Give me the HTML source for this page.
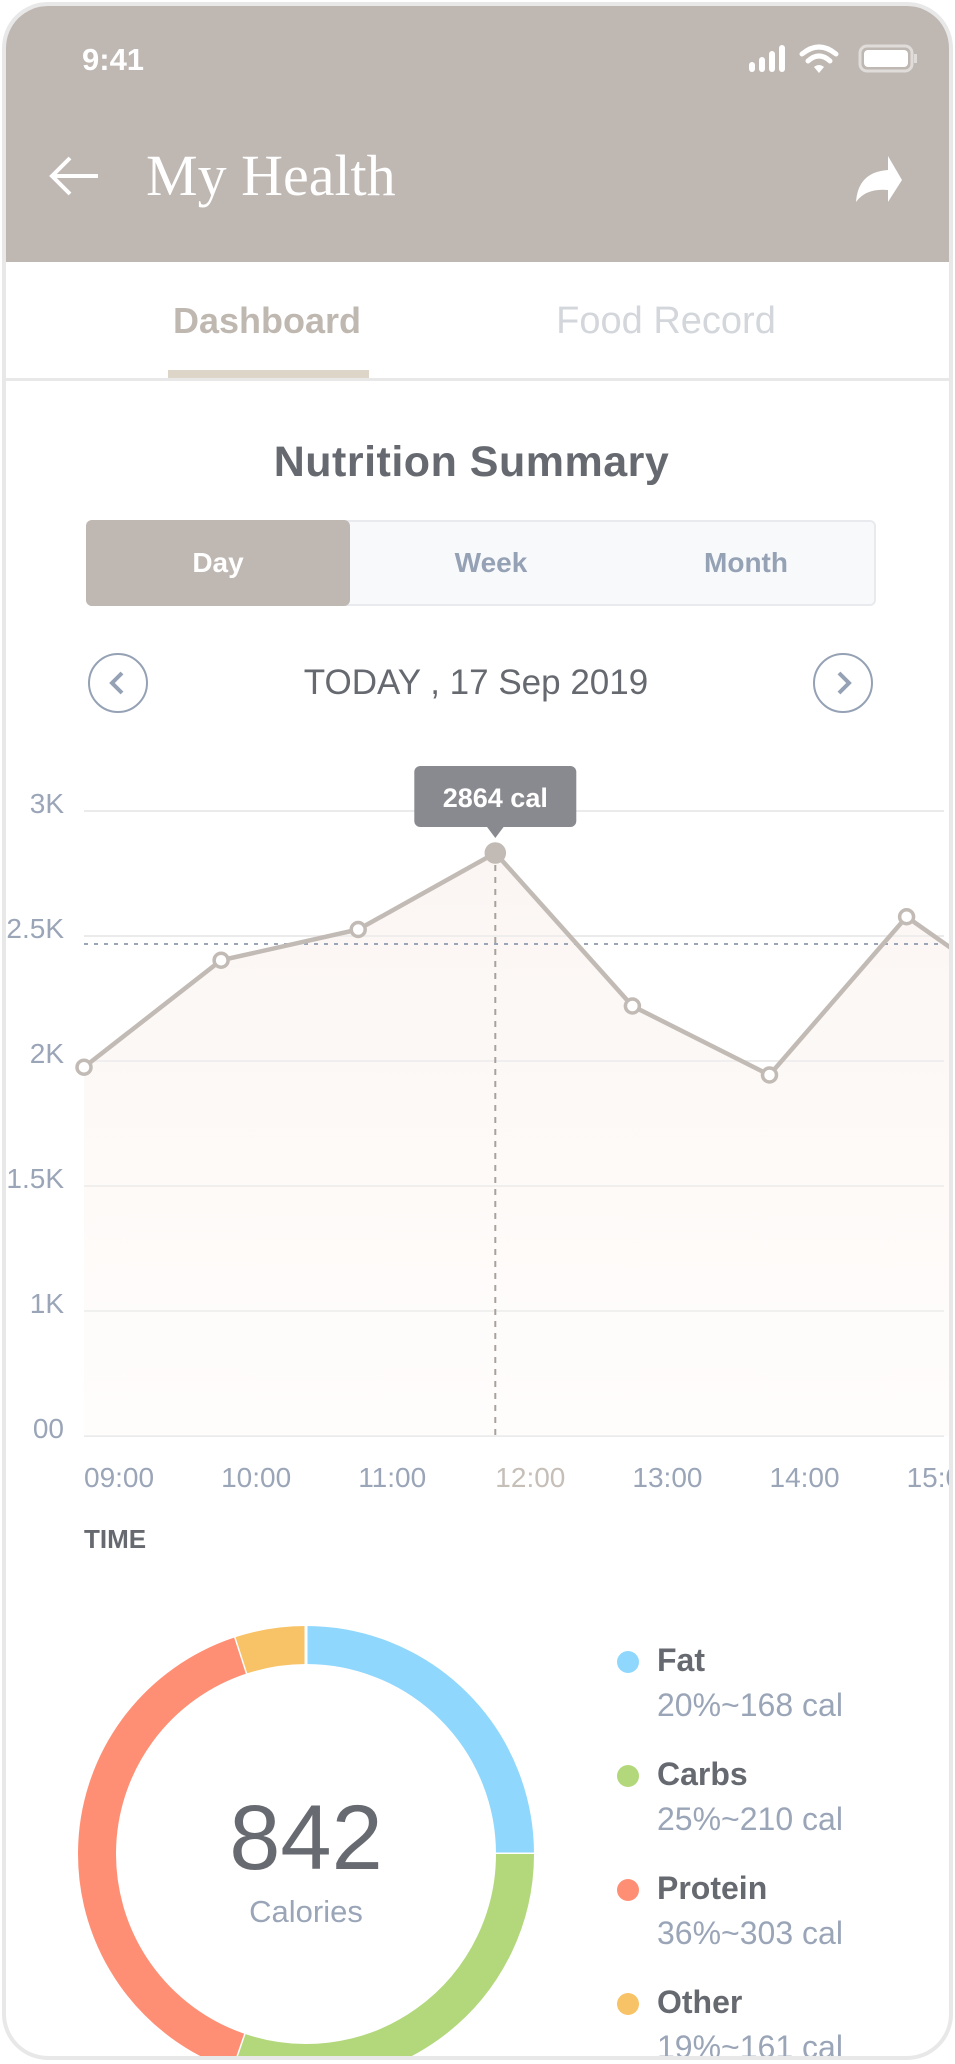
<!DOCTYPE html>
<html><head><meta charset="utf-8">
<style>
*{margin:0;padding:0;box-sizing:border-box}
body{width:955px;height:2064px;background:#fff;position:relative;overflow:hidden;font-family:"Liberation Sans",sans-serif}
.abs{position:absolute}
#frame{left:2px;top:2px;width:951px;height:2058px;border:4px solid #e8e8e8;border-radius:46px;overflow:hidden;background:#fff}
#header{left:0;top:0;width:943px;height:256px;background:#beb7b2}
.t{position:absolute;white-space:nowrap}
</style></head><body>
<div id="frame" class="abs">
  <div id="header" class="abs"></div>
  <div class="t" style="left:76px;top:36px;font-size:31px;color:#fff;font-weight:bold">9:41</div>
  <svg class="abs" style="left:740px;top:36px" width="180" height="36">
    <rect x="3" y="20" width="6" height="10" rx="3" fill="#fff"/><rect x="13" y="15" width="6" height="15" rx="3" fill="#fff"/><rect x="23" y="9" width="6" height="21" rx="3" fill="#fff"/><rect x="33" y="3" width="6" height="27" rx="3" fill="#fff"/>
    <path d="M56 12 Q73 -2 90 12" stroke="#fff" stroke-width="5" fill="none" stroke-linecap="round"/><path d="M62 19 Q73 9 84 19" stroke="#fff" stroke-width="5" fill="none" stroke-linecap="round"/><path d="M68 25 L73 31 L78 25 Q73 21 68 25Z" fill="#fff"/>
    <rect x="114" y="4" width="52" height="25" rx="7" fill="none" stroke="#e0dcd9" stroke-width="3"/><rect x="118" y="8" width="44" height="17" rx="4" fill="#fff"/><rect x="168" y="12" width="3" height="9" fill="#e0dcd9"/>
  </svg>
  <svg class="abs" style="left:40px;top:148px" width="60" height="48"><path d="M52 22 L6 22 M24 4 L6 22 L24 40" stroke="#fff" stroke-width="4" fill="none"/></svg>
  <div class="t" style="left:140px;top:136px;font-family:'Liberation Serif',serif;font-size:58px;color:#fff">My Health</div>
  <svg class="abs" style="left:840px;top:148px" width="60" height="50"><path d="M42 2 L56 26 L42 48 L42 36 Q20 34 10 48 Q12 18 42 16 Z" fill="#fff"/></svg>

  <div class="t" style="left:161px;top:294px;width:200px;text-align:center;font-size:36px;color:#bfb8b1;font-weight:bold">Dashboard</div>
  <div class="t" style="left:540px;top:294px;width:240px;text-align:center;font-size:38px;color:#d3d6db">Food Record</div>
  <div class="abs" style="left:162px;top:364px;width:201px;height:8px;background:#ddd5c8"></div>
  <div class="abs" style="left:0;top:372px;width:943px;height:3px;background:#e8e8e8"></div>

  <div class="t" style="left:0;top:432px;width:931px;text-align:center;font-size:43px;letter-spacing:0.5px;color:#666a70;font-weight:bold">Nutrition Summary</div>
  <div class="abs" style="left:80px;top:514px;width:790px;height:86px;background:#f8f9fb;border:2px solid #e8eaee;border-radius:6px"></div>
  <div class="abs" style="left:80px;top:514px;width:264px;height:86px;background:#beb7b2;border-radius:6px;color:#fff;font-size:28px;font-weight:bold;text-align:center;line-height:86px">Day</div>
  <div class="t" style="left:385px;top:514px;width:200px;line-height:86px;text-align:center;font-size:28px;color:#95a1b4;font-weight:bold">Week</div>
  <div class="t" style="left:640px;top:514px;width:200px;line-height:86px;text-align:center;font-size:28px;color:#95a1b4;font-weight:bold">Month</div>

  <svg class="abs" style="left:81px;top:646px" width="62" height="62"><circle cx="31" cy="31" r="29" fill="none" stroke="#95a1b4" stroke-width="2"/><path d="M35 21 L25 31 L35 41" stroke="#95a1b4" stroke-width="4" fill="none"/></svg>
  <svg class="abs" style="left:806px;top:646px" width="62" height="62"><circle cx="31" cy="31" r="29" fill="none" stroke="#95a1b4" stroke-width="2"/><path d="M27 21 L37 31 L27 41" stroke="#95a1b4" stroke-width="4" fill="none"/></svg>
  <div class="t" style="left:0;top:657px;width:940px;text-align:center;font-size:35px;color:#666a70">TODAY , 17 Sep 2019</div>

  <svg id="chart" class="abs" style="left:-6px;top:-6px" width="955" height="1540"></svg>

  <div class="t" style="left:78px;top:1518px;font-size:26px;color:#666a70;font-weight:bold">TIME</div>

  <svg id="donut" class="abs" style="left:-6px;top:-6px" width="600" height="2070"></svg>
  <div class="t" style="left:150px;top:1780px;width:300px;text-align:center;font-size:92px;color:#676a70">842</div>
  <div class="t" style="left:150px;top:1888px;width:300px;text-align:center;font-size:31px;color:#9aa5b8">Calories</div>

  <div id="legend"></div>
</div>
<script>
var NS='http://www.w3.org/2000/svg';
function mk(p,tag,at){var e=document.createElementNS(NS,tag);for(var k in at)e.setAttribute(k,at[k]);p.appendChild(e);return e;}
// ---- line chart data ----
var timeLabels=['09:00','10:00','11:00','12:00','13:00','14:00','15:00','16:00'];
var calories=[1975,2403,2526,2832,2220,1944,2577,2190];
var yTickLabels=['3K','2.5K','2K','1.5K','1K','00'];
var yTickValues=[3000,2500,2000,1500,1000,500];
var averageValue=2468;
var highlightIndex=3;
var highlightLabel='2864 cal';

var chart=document.getElementById('chart');
function xS(i){return 84+i*137.1;}
function yS(v){return 811+(3000-v)/500*125;}
var g;
yTickValues.forEach(function(v,i){
  g=mk(chart,'line',{x1:84,x2:944,y1:yS(v),y2:yS(v),stroke:'#ebebeb','stroke-width':2});
  
  
  var t=mk(chart,'text',{x:64,y:yS(v)+2,'text-anchor':'end','font-size':28,fill:'#9aa5b8','font-family':'Liberation Sans, sans-serif'});
  t.textContent=yTickLabels[i];
  
  
});
var defs=mk(chart,'defs',{});
var lg=mk(defs,'linearGradient',{id:'fillg',x1:0,y1:0,x2:0,y2:1});
mk(lg,'stop',{offset:'0','stop-color':'#fbf6f3'});mk(lg,'stop',{offset:'1','stop-color':'#fffdfc'});
var pts=calories.map(function(v,i){return xS(i)+','+yS(v);});
var area=mk(chart,'polygon',{points:xS(0)+','+yS(500)+' '+pts.join(' ')+' '+xS(calories.length-1)+','+yS(500),fill:'url(#fillg)'});


yTickValues.forEach(function(v){mk(chart,'line',{x1:84,x2:944,y1:yS(v),y2:yS(v),stroke:'#ebebeb','stroke-width':2,opacity:0.7});});
var avg=mk(chart,'line',{x1:84,x2:955,y1:yS(averageValue),y2:yS(averageValue),stroke:'#9aa5b8','stroke-width':2,'stroke-dasharray':'4 6'});


var vl=mk(chart,'line',{x1:xS(highlightIndex),x2:xS(highlightIndex),y1:yS(calories[highlightIndex]),y2:yS(500),stroke:'#a8a29d','stroke-width':2,'stroke-dasharray':'6 6'});


var line=mk(chart,'polyline',{points:pts.join(' '),fill:'none',stroke:'#c2bbb5','stroke-width':4.5});


calories.forEach(function(v,i){
  var c=mk(chart,'circle',{cx:xS(i),cy:yS(v),r:i==highlightIndex?9:7,fill:i==highlightIndex?'#c2bbb5':'#fff',stroke:'#c2bbb5','stroke-width':3.5});
  
  
  var t=mk(chart,'text',{x:xS(i),y:1487,'font-size':28,fill:i==highlightIndex?'#c6bfb8':'#9aa5b8','font-family':'Liberation Sans, sans-serif'});
  t.textContent=timeLabels[i];
  
  
});
var hx=xS(highlightIndex),hy=yS(calories[highlightIndex]);
var tip=mk(chart,'g',{});


mk(tip,'rect',{x:hx-81,y:hy-87,width:162,height:61,rx:6,fill:'#898a8f'});
mk(tip,'polygon',{points:(hx-9)+','+(hy-27)+' '+(hx+9)+','+(hy-27)+' '+hx+','+(hy-15),fill:'#898a8f'});
var tt=mk(tip,'text',{x:hx,y:hy-46,'text-anchor':'middle','font-size':27,'font-weight':'bold',fill:'#fff','font-family':'Liberation Sans, sans-serif'});
tt.textContent=highlightLabel;

// ---- donut data ----
var macroNames=['Fat','Carbs','Protein','Other'];
var macroShares=[90,109,143,18];
var macroLabels=['20%~168 cal','25%~210 cal','36%~303 cal','19%~161 cal'];
var macroColors=['#8fd7fd','#b2d87b','#fe8f74','#f8c266'];
var donut=document.getElementById('donut');
var cx=306,cy=1854,r=209,total=macroShares.reduce(function(a,b){return a+b;},0),acc=0;
macroShares.forEach(function(v,i){
  var a0=acc/total*2*Math.PI,a1=(acc+v)/total*2*Math.PI;acc+=v;
  var x0=cx+r*Math.sin(a0),y0=cy-r*Math.cos(a0),x1=cx+r*Math.sin(a1),y1=cy-r*Math.cos(a1);
  var p=mk(donut,'path',{d:'M'+x0+' '+y0+' A'+r+' '+r+' 0 '+((a1-a0)>Math.PI?1:0)+' 1 '+x1+' '+y1,fill:'none',stroke:macroColors[i],'stroke-width':38});
  
  
  mk(donut,'line',{x1:cx+(r-20)*Math.sin(a1),y1:cy-(r-20)*Math.cos(a1),x2:cx+(r+20)*Math.sin(a1),y2:cy-(r+20)*Math.cos(a1),stroke:'#fff','stroke-width':3});
});
var legend=document.getElementById('legend');
macroNames.forEach(function(n,i){
  var y=1662+i*114-6;
  var d=document.createElement('div');
  d.className='abs';d.style.cssText='left:'+(611)+'px;top:'+(y-11)+'px;width:22px;height:22px;border-radius:50%;background:'+macroColors[i];
  
  
  legend.appendChild(d);
  var a=document.createElement('div');
  a.className='t';a.style.cssText='left:651px;top:'+(y-20)+'px;font-size:32px;font-weight:bold;color:#666a70';a.textContent=n;
  
  
  legend.appendChild(a);
  var b=document.createElement('div');
  b.className='t';b.style.cssText='left:651px;top:'+(y+25)+'px;font-size:32px;color:#9aa5b8';b.textContent=macroLabels[i];
  
  
  legend.appendChild(b);
});
</script>
</body></html>
